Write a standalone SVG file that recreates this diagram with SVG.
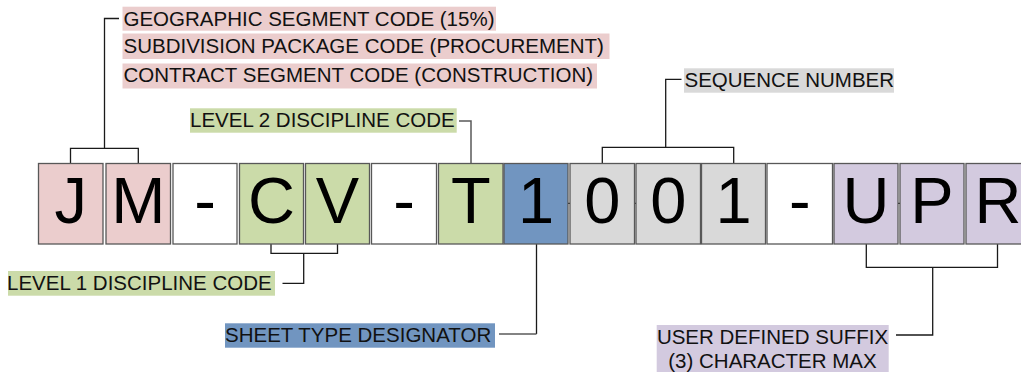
<svg xmlns="http://www.w3.org/2000/svg" width="1021" height="372" viewBox="0 0 1021 372">
<style>
.box{stroke:#585858;stroke-width:1.3}
.big{font-family:"Liberation Sans",Arial,sans-serif;font-size:65px;fill:#000;text-anchor:middle}
.lbl{font-family:"Liberation Sans",Arial,sans-serif;font-size:20.5px;fill:#111}
.pink{fill:#ebcdcd}.green{fill:#cbdba9}.blue{fill:#7195c0}.gray{fill:#d9d9d9}.purple{fill:#d3cadf}.white{fill:#fff}
.ln{fill:none;stroke:#1a1a1a;stroke-width:1.3}
.lg{fill:none;stroke:#5a5a5a;stroke-width:1.5}
</style>
<rect width="1021" height="372" fill="#fff"/>
<g id="connectors">
<path class="ln" d="M119,18.5H104.5V148.3M70.5,163.3V148.3H138.3V163.3"/>
<path class="lg" d="M459,121H471V163.3"/>
<path class="ln" d="M681.5,79.3H665.7V147.3M602.3,163.3V147.3H733.7V163.3"/>
<path class="ln" d="M271,244V253.3H337.5V244M303.7,253.3V283.3H282.5"/>
<path class="ln" d="M536.5,244V334"/><path class="lg" d="M536.5,334H499"/>
<path class="ln" d="M866.3,244V267.3H997.5V244M932.7,267.3V335H896"/>
<path class="ln" d="M567.5,203.3H570.5M634.5,203.3H636.5M898,203.3H900.5"/>
</g>
<g id="box-J"><rect class="box pink" x="38.5" y="163.5" width="64.5" height="80.5"/><text class="big" x="70.75" y="223">J</text></g>
<g id="box-M"><rect class="box pink" x="106" y="163.5" width="64.5" height="80.5"/><text class="big" x="138.25" y="223">M</text></g>
<g id="box-dash1"><rect class="box white" x="173" y="163.5" width="64" height="80.5"/><text class="big" x="205" y="223">-</text></g>
<g id="box-C"><rect class="box green" x="239.5" y="163.5" width="64" height="80.5"/><text class="big" x="271.5" y="223">C</text></g>
<g id="box-V"><rect class="box green" x="305.5" y="163.5" width="64" height="80.5"/><text class="big" x="337.5" y="223">V</text></g>
<g id="box-dash2"><rect class="box white" x="371.5" y="163.5" width="65" height="80.5"/><text class="big" x="404" y="223">-</text></g>
<g id="box-T"><rect class="box green" x="438.5" y="163.5" width="64.5" height="80.5"/><text class="big" x="470.75" y="223">T</text></g>
<g id="box-1a"><rect class="box blue" x="504" y="163.5" width="64" height="80.5"/><text class="big" x="536" y="223">1</text></g>
<g id="box-0a"><rect class="box gray" x="570" y="163.5" width="64.5" height="80.5"/><text class="big" x="602.25" y="223">0</text></g>
<g id="box-0b"><rect class="box gray" x="636" y="163.5" width="64.5" height="80.5"/><text class="big" x="668.25" y="223">0</text></g>
<g id="box-1b"><rect class="box gray" x="701.5" y="163.5" width="64" height="80.5"/><text class="big" x="733.5" y="223">1</text></g>
<g id="box-dash3"><rect class="box white" x="767" y="163.5" width="65.5" height="80.5"/><text class="big" x="799.75" y="223">-</text></g>
<g id="box-U"><rect class="box purple" x="834" y="163.5" width="64" height="80.5"/><text class="big" x="866" y="223">U</text></g>
<g id="box-P"><rect class="box purple" x="900" y="163.5" width="64" height="80.5"/><text class="big" x="932" y="223">P</text></g>
<g id="box-R"><rect class="box purple" x="966" y="163.5" width="64" height="80.5"/><text class="big" x="998" y="223">R</text></g>
<g id="label-geo"><rect class="pink" x="122.5" y="6.7" width="373.5" height="24"/><text class="lbl" x="123.5" y="25.5">GEOGRAPHIC SEGMENT CODE (15%)</text></g>
<g id="label-sub"><rect class="pink" x="122.5" y="33.5" width="487" height="25.5"/><text class="lbl" x="123.5" y="52.5">SUBDIVISION PACKAGE CODE (PROCUREMENT)</text></g>
<g id="label-con"><rect class="pink" x="122.5" y="63.5" width="474.5" height="25"/><text class="lbl" x="123.5" y="82.3">CONTRACT SEGMENT CODE (CONSTRUCTION)</text></g>
<g id="label-l2"><rect class="green" x="190" y="108.3" width="266.7" height="24.4"/><text class="lbl" x="190" y="127">LEVEL 2 DISCIPLINE CODE</text></g>
<g id="label-seq"><rect class="gray" x="684" y="68.3" width="210" height="24.4"/><text class="lbl" x="684.5" y="87">SEQUENCE NUMBER</text></g>
<g id="label-l1"><rect class="green" x="8" y="271" width="267" height="24.7"/><text class="lbl" x="7" y="290">LEVEL 1 DISCIPLINE CODE</text></g>
<g id="label-sheet"><rect class="blue" x="225" y="323.3" width="270" height="24.4"/><text class="lbl" x="225" y="342">SHEET TYPE DESIGNATOR</text></g>
<g id="label-user"><rect class="purple" x="656.7" y="325" width="232" height="47"/><text class="lbl" x="772.5" y="344" text-anchor="middle">USER DEFINED SUFFIX</text><text class="lbl" x="772.5" y="368.3" text-anchor="middle">(3) CHARACTER MAX</text></g>
</svg>
